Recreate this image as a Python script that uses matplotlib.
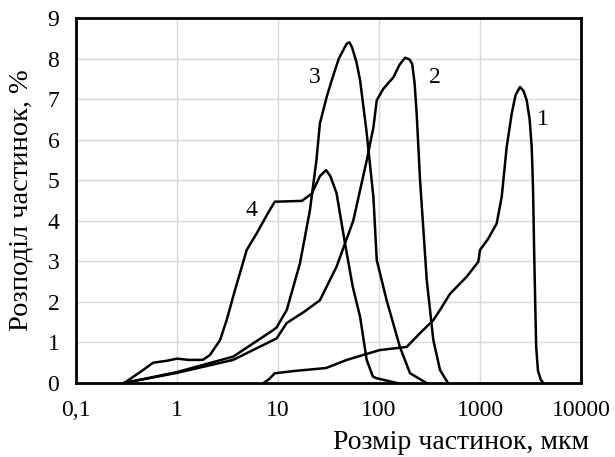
import matplotlib
matplotlib.use("Agg")
import matplotlib.pyplot as plt

plt.rcParams['font.family'] = ['Liberation Serif', 'DejaVu Serif']

# Curve 1
x1 = [7.2, 8.2, 9.3, 15, 30, 48, 101, 188, 255, 345, 402, 505, 738, 962, 1000, 1200, 1462, 1640, 1838, 2060, 2250, 2490, 2700, 2900, 3100, 3250, 3350, 3430, 3520, 3600, 3750, 4000, 4240]
y1 = [0.0, 0.1, 0.24, 0.3, 0.37, 0.57, 0.81, 0.89, 1.23, 1.55, 1.8, 2.2, 2.62, 2.99, 3.28, 3.55, 3.93, 4.59, 5.82, 6.64, 7.1, 7.30, 7.2, 6.97, 6.5, 5.82, 4.8, 3.36, 2.0, 0.89, 0.3, 0.08, 0.0]
# Curve 2
x2 = [0.3, 1.0, 3.6, 9.7, 12.2, 18, 26, 38, 55.6, 75.6, 88, 95, 110, 139, 160, 181, 200, 213, 225, 236, 255, 297, 345, 402, 482]
y2 = [0.0, 0.25, 0.57, 1.1, 1.48, 1.75, 2.04, 2.87, 4.0, 5.49, 6.3, 6.97, 7.25, 7.54, 7.85, 8.02, 7.98, 7.87, 7.4, 6.64, 5.0, 2.54, 1.06, 0.32, 0.0]
# Curve 3
x3 = [0.3, 1.0, 3.6, 8.9, 9.7, 12.2, 16.5, 20.7, 24, 26, 30.3, 34, 40, 48, 51, 54, 60, 65, 75, 88, 95, 119, 161, 203, 295]
y3 = [0.0, 0.27, 0.65, 1.3, 1.37, 1.8, 2.95, 4.26, 5.49, 6.4, 7.05, 7.46, 8.0, 8.37, 8.4, 8.28, 7.9, 7.46, 6.23, 4.59, 3.03, 2.04, 0.89, 0.24, 0.0]
# Curve 4
x4 = [0.3, 0.45, 0.58, 0.8, 1.0, 1.3, 1.8, 2.12, 2.67, 3.1, 3.75, 4.9, 6.15, 8.0, 9.3, 17.2, 21.6, 26, 29.9, 33, 38, 46, 55, 65, 75.5, 87, 94, 150]
y4 = [0.0, 0.3, 0.5, 0.55, 0.6, 0.57, 0.57, 0.69, 1.06, 1.55, 2.29, 3.28, 3.69, 4.2, 4.47, 4.49, 4.67, 5.1, 5.25, 5.1, 4.68, 3.45, 2.37, 1.63, 0.57, 0.16, 0.12, 0.0]

labels = ["1", "2", "3", "4"]
label_pos = [(4200, 6.5), (357, 7.54), (23, 7.54), (5.5, 4.26)]

fig = plt.figure(figsize=(6.15, 4.57), dpi=100)
ax = fig.add_axes([76/615, 1 - 383/457, (581-76)/615, (383-18)/457])

for xs, ys in [(x1, y1), (x2, y2), (x3, y3), (x4, y4)]:
    ax.plot(xs, ys, color='black', lw=1.8, solid_joinstyle='round')

for t, (lx, ly) in zip(labels, label_pos):
    ax.text(lx, ly, t, fontsize=17, ha='center', va='center', color='black')

ax.set_xscale('log')
ax.set_xlim(0.1, 10000)
ax.set_ylim(0, 9)
ax.set_xticks([0.1, 1, 10, 100, 1000, 10000])
ax.set_xticklabels(["0,1", "1", "10", "100", "1000", "10000"])
ax.set_yticks(range(0, 10))
ax.minorticks_off()
ax.tick_params(length=0, labelsize=17, pad=12)
ax.grid(True, color='#d9d9d9', lw=1)
ax.set_axisbelow(True)
for s in ax.spines.values():
    s.set_linewidth(2)
    s.set_color('black')

fig.text(461/615, 1 - 449/457, "Розмір частинок, мкм", fontsize=20, ha='center', va='baseline')
fig.text(21/615, 1 - 200/457, "Розподіл частинок, %", fontsize=20.5, ha='center', va='center', rotation=90)

fig.savefig("out.png", dpi=100)
